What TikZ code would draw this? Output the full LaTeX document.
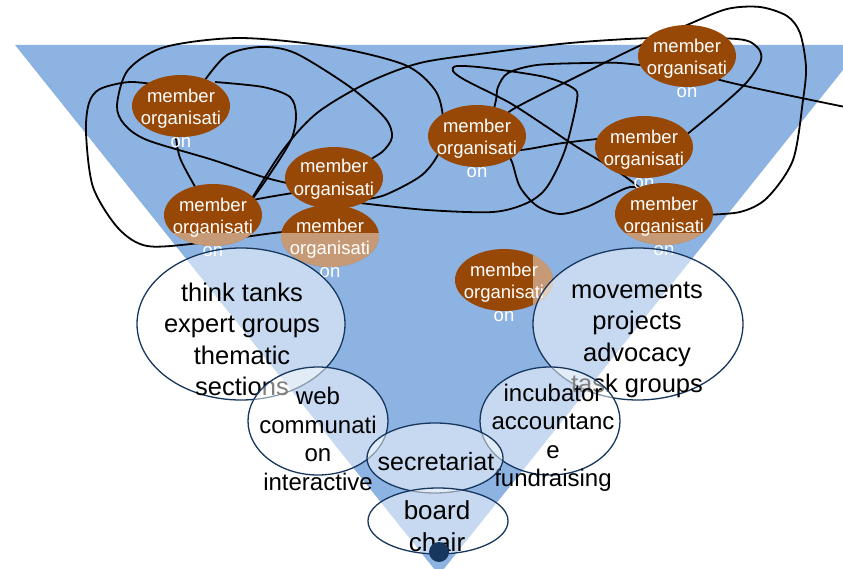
\documentclass[tikz,border=0pt]{standalone}
\usepackage{fontspec}
\setmainfont{Liberation Sans}
\usetikzlibrary{shapes.geometric}
\definecolor{triblue}{RGB}{141,179,226}
\definecolor{mbrown}{RGB}{152,72,6}
\definecolor{navy}{RGB}{23,55,94}
\begin{document}
\begin{tikzpicture}[x=1pt,y=-1pt,
  tri/.style={fill=triblue},
  scribble/.style={draw=black,line width=1.8pt,smooth},
  member/.style={ellipse,fill=mbrown,inner sep=0pt,minimum width=98pt,minimum height=62pt},
  fade/.style={member,fill=white,fill opacity=0.45},
  mtext/.style={text=white,font=\fontsize{18.5}{22.5}\selectfont,align=center,inner sep=0pt,yshift=-12pt},
  group/.style={ellipse,draw=navy,line width=1.3pt,inner sep=0pt},
  gfill/.style={group,fill=white,fill opacity=0.5},
  gtext/.style={text=black,align=center,inner sep=0pt},
  bigfont/.style={font=\fontsize{25.5}{31.5}\selectfont},
  midfont/.style={font=\fontsize{24}{28.5}\selectfont},
  dot/.style={circle,fill=navy,inner sep=0pt,minimum size=20pt}
]
\useasboundingbox (0,0) rectangle (843,569);
\begin{scope}
\clip (0,0) rectangle (843,569);
\fill[tri] (15,45) -- (863,45) -- (439,575) -- cycle;
% scribble strands
\draw[scribble] plot coordinates {(300,186) (263,177) (213,160) (147,140) (124,124) (117,105) (128,70) (165,47) (240,38) (333,47) (405,65) (435,90) (443,118) (440,150) (422,175) (385,195) (360,200)};
\draw[scribble] plot coordinates {(205,80) (227,55) (260,47) (295,53) (350,87) (385,118) (392,137) (382,152) (360,165)};
\draw[scribble] plot coordinates {(175,130) (180,158) (197,190)};
\draw[scribble] plot coordinates {(165,86) (130,82) (100,89) (89,103) (86,133) (93,187) (118,228) (147,246) (200,243) (283,232) (310,234)};
\draw[scribble] plot coordinates {(215,82) (263,87) (290,97) (296,115) (291,140) (268,177) (248,205)};
\draw[scribble] plot coordinates {(248,205) (283,150) (317,113) (367,83) (420,63) (487,53) (570,43) (653,38) (737,39) (757,47) (761,60) (747,82) (720,107) (680,140)};
\draw[scribble] plot coordinates {(240,205) (253,200) (293,193) (320,190)};
\draw[scribble] plot coordinates {(360,203) (427,210) (493,212) (527,203) (547,187) (565,150) (577,100) (573,88) (545,77) (487,68) (457,66) (453,71) (465,80) (510,103) (547,127) (577,147) (620,173) (645,192)};
\draw[scribble] plot coordinates {(490,125) (496,100) (498,87) (508,73) (537,65) (587,63) (620,63) (665,68)};
\draw[scribble] plot coordinates {(700,66) (720,80) (850,108)};
\draw[scribble] plot coordinates {(500,120) (515,108) (570,80) (637,47) (687,25) (727,9) (760,7) (787,16) (800,33) (806,67) (803,100) (793,160) (767,198) (740,212) (700,215)};
\draw[scribble] plot coordinates {(500,145) (520,150) (563,143) (620,137) (640,140)};
\draw[scribble] plot coordinates {(505,150) (512,162) (520,187) (537,206) (560,214) (587,207) (630,187) (650,195)};
\end{scope}
% member organisations
\node[member] (m1) at (181,106) {};
\node[mtext] (m1t) at (m1) {member\\organisati\\on};
\node[member] (m2) at (334,178) {};
\node[mtext,yshift=11pt] (m2t) at (m2) {member\\organisati};
\node[member] (m3) at (213,215) {};
\node[mtext] (m3t) at (m3) {member\\organisati\\on};
\node[member] (m4) at (330,236) {};
\node[mtext] (m4t) at (m4) {member\\organisati\\on};
\node[member] (m5) at (477,136) {};
\node[mtext] (m5t) at (m5) {member\\organisati\\on};
\node[member] (m7) at (687,56) {};
\node[mtext] (m7t) at (m7) {member\\organisati\\on};
\node[member] (m6) at (644,147) {};
\node[mtext] (m6t) at (m6) {member\\organisati\\on};
\node[member] (m8) at (664,214) {};
\node[mtext] (m8t) at (m8) {member\\organisati\\on};
\node[member] (m9) at (504,280) {};
\node[mtext] (m9t) at (m9) {member\\organisati\\on};
% faded lower parts of the member ellipses
\begin{scope}
\clip (120,234) rectangle (390,280);
\node[fade] (f3) at (m3) {};
\node[fade] (f4) at (m4) {};
\end{scope}
\begin{scope}
\clip (600,234) rectangle (720,260);
\node[fade] (f8) at (m8) {};
\end{scope}
\begin{scope}
\clip (533,240) rectangle (560,320);
\node[fade] (f9) at (m9) {};
\end{scope}
% think tanks
\node[gfill,minimum width=208pt,minimum height=152pt] (tt) at (241,324) {};
\node[gtext,bigfont] (ttt) at (242,339.5) {think tanks\\expert groups\\thematic\\sections};
% movements
\node[gfill,minimum width=210pt,minimum height=152pt] (mv) at (638,324) {};
\node[gtext,bigfont] (mvt) at (637,340) {movements\\projects\\advocacy\\task groups};
% web communication
\node[gfill,minimum width=140pt,minimum height=108pt] (web) at (318,421) {};
\node[gtext,midfont] (webt) at (318,439) {web\\communati\\on\\interactive};
% incubator
\node[gfill,minimum width=140pt,minimum height=108pt] (inc) at (550,421) {};
\node[gtext,midfont] (inct) at (553,438) {incubator\\accountanc\\e\\fundraising};
% secretariat
\node[gfill,minimum width=136pt,minimum height=70pt] (sec) at (435,458) {};
\node[gtext,font=\fontsize{25}{30}\selectfont] (sect) at (436,462) {secretariat};
% board chair
\node[gfill,minimum width=140pt,minimum height=66pt] (bd) at (438,521) {};
\node[gtext,font=\fontsize{26}{32}\selectfont] (bdt) at (437,526) {board\\chair};
\node[dot] (d) at (439,552) {};
\end{tikzpicture}
\end{document}
